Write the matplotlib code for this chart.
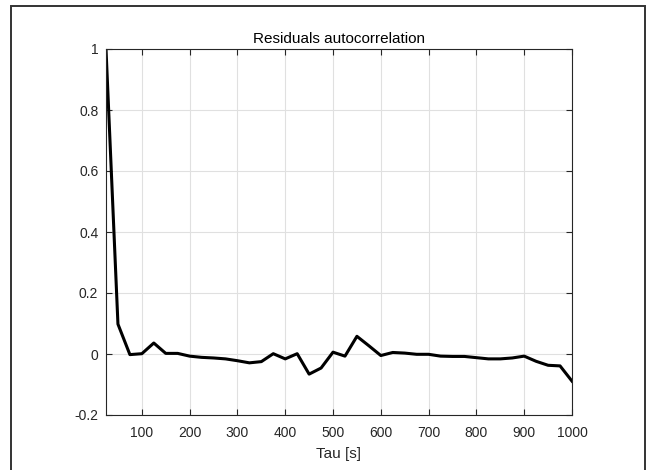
import matplotlib
matplotlib.use("Agg")
import matplotlib.pyplot as plt
from matplotlib.patches import Rectangle

tau = [25, 50, 75, 100, 125, 150, 175, 200, 225, 250, 275, 300, 325, 350, 375, 400,
       425, 450, 475, 500, 525, 550, 575, 600, 625, 650, 675, 700, 725, 750, 775, 800,
       825, 850, 875, 900, 925, 950, 975, 1000]
acf = [1.0, 0.098, -0.002, 0.001, 0.036, 0.002, 0.002, -0.007, -0.011, -0.013, -0.016,
       -0.022, -0.029, -0.025, 0.001, -0.016, 0.001, -0.066, -0.046, 0.006, -0.007,
       0.058, 0.027, -0.005, 0.005, 0.003, -0.001, -0.001, -0.007, -0.008, -0.008,
       -0.012, -0.016, -0.016, -0.013, -0.007, -0.024, -0.037, -0.039, -0.089]
xticks = [100, 200, 300, 400, 500, 600, 700, 800, 900, 1000]
yticks = [-0.2, 0, 0.2, 0.4, 0.6, 0.8, 1]
ytick_labels = ["-0.2", "0", "0.2", "0.4", "0.6", "0.8", "1"]

plt.rcParams['font.family'] = ['Liberation Sans', 'DejaVu Sans']
W, H = 652, 470
fig = plt.figure(figsize=(W / 100, H / 100), dpi=100)
fig.patches.append(Rectangle((10.5 / W, -0.1), (645 - 10.5) / W, 1.1 - 6 / H,
                             transform=fig.transFigure, fill=False,
                             edgecolor='#333333', linewidth=1.4))
ax = fig.add_axes([106 / W, 1 - 415 / H, (572 - 106) / W, (415 - 49) / H])
ax.plot(tau, acf, color='black', linewidth=2.2)
ax.set_xlim(25, 1000)
ax.set_ylim(-0.2, 1)
ax.set_xticks(xticks)
ax.set_yticks(yticks)
ax.set_yticklabels(ytick_labels)
ax.grid(True, color='#e0e0e0', linewidth=0.8)
ax.set_axisbelow(True)
for s in ax.spines.values():
    s.set_color('#262626')
    s.set_linewidth(0.8)
ax.tick_params(direction='in', top=True, right=True, length=4, width=0.8,
               colors='#262626', labelsize=10, labelcolor='#262626')
ax.tick_params(axis='x', pad=8)
ax.tick_params(axis='y', pad=5.5)
ax.set_title("Residuals autocorrelation", fontsize=11, pad=4.5, color='black')
ax.set_xlabel("Tau [s]", fontsize=11, labelpad=5, color='#262626')
fig.savefig("out.png", dpi=100)
